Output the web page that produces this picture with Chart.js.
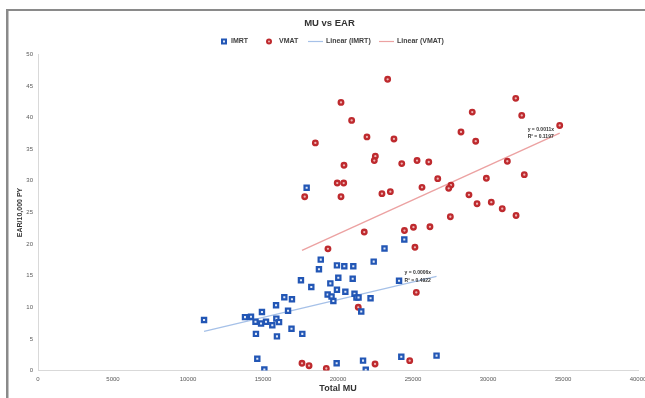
<!DOCTYPE html>
<html>
<head>
<meta charset="utf-8">
<script src="https://cdn.jsdelivr.net/npm/chart.js@4.4.0/dist/chart.umd.min.js"></script>
<style>
html,body{margin:0;padding:0;background:#fff;}
#wrap{position:relative;width:645px;height:398px;}
</style>
</head>
<body>
<div id="wrap"><canvas id="c" width="645" height="398"></canvas></div>
<script>
// ---- data ----
const seriesNames = ['IMRT', 'VMAT', 'Linear (IMRT)', 'Linear (VMAT)'];

const imrtMU = [11070,13800,14200,14930,14500,14870,15200,15890,16070,15620,
                15870,16420,16930,16670,14530,15930,16900,17620,17530,18220,
                18850,18730,19930,20420,21020,20020,20980,19490,19930,20490,
                19310,19570,19690,21100,21230,21370,22170,21550,22380,23100,
                24420,24070,17910,14620,15090,19910,21670,21850,24220,26570];
const imrtEAR = [8.0,8.44,8.49,9.24,7.70,7.43,7.70,8.21,7.65,7.17,
                 10.32,11.59,11.27,9.44,5.79,5.40,6.59,5.79,14.29,13.22,
                 17.54,16.03,16.63,16.48,16.48,14.68,14.52,13.78,12.78,12.46,
                 12.03,11.71,10.98,12.14,11.56,11.56,11.43,9.33,17.22,19.29,
                 20.71,14.21,28.92,1.87,0.16,1.14,1.56,0.13,2.17,2.35];

const vmatMU = [23310,20200,20910,21930,23730,18490,22490,22420,20400,24250,
                25270,26050,28200,26650,19950,20380,25600,27530,27380,28730,
                17780,20200,22930,23490,27490,21750,24430,25030,26130,19330,
                25130,31850,28950,32250,34780,29180,31290,29890,32420,29270,
                30220,30950,31870,21350,25220,17600,18070,19220,22470,24780];
const vmatEAR = [46.06,42.41,39.56,36.95,36.63,36.0,33.89,33.21,32.46,32.73,
                 33.21,32.98,37.73,30.35,29.65,29.65,28.97,29.33,28.81,27.78,
                 27.49,27.49,27.97,28.29,24.32,21.90,22.14,22.67,22.73,19.24,
                 19.49,43.05,40.87,40.35,38.76,36.27,33.10,30.40,30.98,26.38,
                 26.63,25.59,24.52,10.0,12.35,1.14,0.76,0.32,1.03,1.56];

// linear trend through the origin (slopes as drawn in the reference)
const trendSlopes = [0.00056, 0.00108];
const trendEquations = [['y = 0.0006x', 'R\u00b2 = 0.4922'], ['y = 0.0011x', 'R\u00b2 = 0.1197']];

const xTickValues = [0,5000,10000,15000,20000,25000,30000,35000,40000];
const yTickValues = [0,5,10,15,20,25,30,35,40,45,50];

// ---- build ----
const FONT = "'Liberation Sans', Arial, sans-serif";
Chart.defaults.font.family = FONT;

function pts(xs, ys){ return xs.map((x,i)=>({x:x, y:ys[i]})); }
function trend(xs, slope){
  const lo = Math.min(...xs), hi = Math.max(...xs);
  return [{x:lo, y:slope*lo}, {x:hi, y:slope*hi}];
}

const colors = {
  imrt: '#2256b5', imrtFill: '#dfe8f8',
  vmat: '#be2a2e', vmatFill: '#eeb4b4',
  imrtLine: '#a6c1e8', vmatLine: '#eca2a2'
};

const framePlugin = {
  id: 'frame',
  beforeDraw(chart){
    const ctx = chart.ctx;
    ctx.save();
    ctx.fillStyle = '#ffffff';
    ctx.fillRect(0,0,chart.width,chart.height);
    ctx.fillStyle = '#8a8a8a';
    ctx.fillRect(6, 9, chart.width, 2);
    ctx.fillRect(6, 9, 2.5, chart.height);
    ctx.restore();
  }
};

const legendPlugin = {
  id: 'customLegend',
  afterDraw(chart){
    const ctx = chart.ctx;
    const y = 41.5;
    ctx.save();
    ctx.font = "bold 7px " + FONT;
    ctx.textBaseline = 'middle';
    ctx.textAlign = 'left';
    // IMRT marker
    ctx.lineWidth = 2;
    ctx.strokeStyle = colors.imrt; ctx.fillStyle = colors.imrtFill;
    ctx.beginPath(); ctx.rect(222, y-2, 4, 4); ctx.fill(); ctx.stroke();
    ctx.fillStyle = '#404040';
    ctx.fillText(seriesNames[0], 231, y);
    // VMAT marker
    ctx.strokeStyle = colors.vmat; ctx.fillStyle = colors.vmatFill;
    ctx.beginPath(); ctx.arc(269, y, 2, 0, Math.PI*2); ctx.fill(); ctx.stroke();
    ctx.fillStyle = '#404040';
    ctx.fillText(seriesNames[1], 279, y);
    // lines
    ctx.lineWidth = 1.2;
    ctx.strokeStyle = colors.imrtLine;
    ctx.beginPath(); ctx.moveTo(308, y); ctx.lineTo(323, y); ctx.stroke();
    ctx.fillText(seriesNames[2], 326, y);
    ctx.strokeStyle = colors.vmatLine;
    ctx.beginPath(); ctx.moveTo(379, y); ctx.lineTo(394, y); ctx.stroke();
    ctx.fillText(seriesNames[3], 397, y);
    ctx.restore();
  }
};

const trendLabelPlugin = {
  id: 'trendLabels',
  afterDatasetsDraw(chart){
    const ctx = chart.ctx;
    ctx.save();
    ctx.font = "bold 5px " + FONT;
    ctx.fillStyle = '#333333';
    ctx.textBaseline = 'middle';
    ctx.textAlign = 'left';
    [2,3].forEach((di, k) => {
      const meta = chart.getDatasetMeta(di);
      const end = meta.data[meta.data.length-1];
      const lines = trendEquations[k];
      const tx = end.x - 32;
      ctx.fillText(lines[0], tx, end.y - 3.5);
      ctx.fillText(lines[1], tx, end.y + 3.8);
    });
    ctx.restore();
  }
};

new Chart(document.getElementById('c'), {
  type: 'scatter',
  data: {
    datasets: [
      { label: seriesNames[0], data: pts(imrtMU, imrtEAR), pointStyle: 'rect',
        pointRadius: 3.0, borderWidth: 2.2, borderColor: colors.imrt, backgroundColor: colors.imrtFill, order: 1 },
      { label: seriesNames[1], data: pts(vmatMU, vmatEAR), pointStyle: 'circle',
        pointRadius: 2.3, borderWidth: 2.3, borderColor: colors.vmat, backgroundColor: colors.vmatFill, order: 2 },
      { label: seriesNames[2], type: 'line', data: trend(imrtMU, trendSlopes[0]), showLine: true,
        pointRadius: 0, borderWidth: 1.4, borderColor: colors.imrtLine, fill: false, order: 3 },
      { label: seriesNames[3], type: 'line', data: trend(vmatMU, trendSlopes[1]), showLine: true,
        pointRadius: 0, borderWidth: 1.4, borderColor: colors.vmatLine, fill: false, order: 4 }
    ]
  },
  options: {
    responsive: false,
    animation: false,
    devicePixelRatio: 1,
    layout: { padding: { left: 14, right: 0, top: 0, bottom: 0 } },
    plugins: {
      legend: { display: false },
      tooltip: { enabled: false },
      title: { display: true, text: 'MU vs EAR', color: '#333333',
               font: { size: 9.5, weight: 'bold', family: FONT },
               padding: { top: 18, bottom: 25 } }
    },
    scales: {
      x: {
        type: 'linear', min: 0, max: 40000,
        afterBuildTicks(s){ s.ticks = xTickValues.map(v => ({value: v})); },
        ticks: { font: { size: 6 }, color: '#595959', padding: 5, maxRotation: 0, autoSkip: false,
                 callback: v => String(v) },
        grid: { color: 'rgba(0,0,0,0)', drawTicks: false },
        border: { display: true, color: '#d9d9d9', width: 1 },
        title: { display: true, text: 'Total MU', color: '#333333',
                 font: { size: 9, weight: 'bold' }, padding: { top: 0, bottom: 4 } },
        afterFit(s){ s.height = 27.5; s.paddingRight = 7; s.paddingLeft = 0; }
      },
      y: {
        min: 0, max: 50,
        afterBuildTicks(s){ s.ticks = yTickValues.map(v => ({value: v})); },
        ticks: { font: { size: 6 }, color: '#595959', padding: 5, callback: v => String(v) },
        grid: { color: 'rgba(0,0,0,0)', drawTicks: false },
        border: { display: true, color: '#d9d9d9', width: 1 },
        title: { display: true, text: 'EAR/10,000 PY', color: '#333333',
                 font: { size: 7, weight: 'bold' }, padding: { top: 2, bottom: 0 } },
        afterFit(s){ s.width = 24; }
      }
    }
  },
  plugins: [framePlugin, legendPlugin, trendLabelPlugin]
});
</script>
</body>
</html>
